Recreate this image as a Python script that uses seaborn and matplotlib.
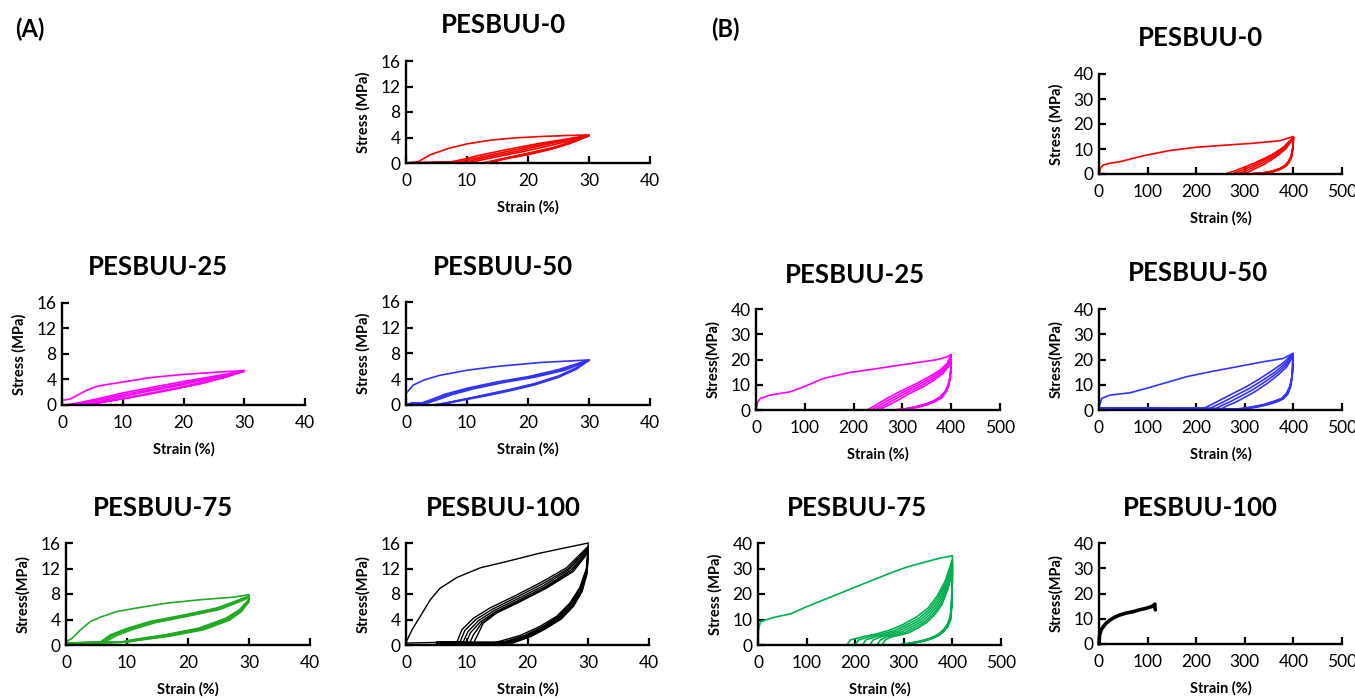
import numpy as np
import pandas as pd
import matplotlib
matplotlib.use("Agg")
import matplotlib.pyplot as plt
import seaborn as sns

# ---------------------------------------------------------------- data
# (A) cyclic tests to 30 % strain -----------------------------------
a0_strain = [
    [0, 2, 4, 7, 10, 14, 18, 22, 26, 30, 27, 24, 20, 16, 14, 12.5, 0],
    [0, 7.5, 9, 12, 16, 22, 26, 30, 27, 24, 20, 16, 14, 13, 0],
    [0, 8.5, 10, 13, 17, 22, 26, 30, 27, 24, 20, 16, 14, 13.2, 0],
    [0, 9.5, 11, 14, 18, 22, 26, 30, 27, 24, 20, 17, 15, 13.5, 0],
    [0, 10.5, 12, 15, 19, 23, 27, 30, 27, 24, 21, 18, 15.5, 13.8, 0],
]
a0_stress = [
    [0, 0.2, 1.3, 2.3, 3.0, 3.6, 3.95, 4.15, 4.3, 4.4, 3.2, 2.3, 1.4, 0.7, 0.3, 0, 0],
    [0, 0.2, 0.5, 1.2, 2.0, 3.1, 3.7, 4.35, 3.1, 2.2, 1.3, 0.6, 0.2, 0, 0],
    [0, 0.15, 0.5, 1.1, 1.9, 2.9, 3.6, 4.3, 3.15, 2.3, 1.4, 0.7, 0.25, 0, 0],
    [0, 0.1, 0.45, 1.05, 1.8, 2.7, 3.5, 4.3, 3.2, 2.35, 1.5, 0.9, 0.4, 0, 0],
    [0, 0.1, 0.4, 1.0, 1.75, 2.6, 3.5, 4.25, 3.25, 2.4, 1.75, 1.1, 0.5, 0, 0],
]

a25_strain = [
    [0, 0, 1.5, 4, 6, 10, 14.5, 20, 25.5, 30, 27, 23, 19, 15, 11, 7, 5, 3.5, 0],
    [0, 1, 3, 6, 10, 15, 20, 25, 30, 27, 23, 19, 15, 11, 7, 5, 3.8, 0],
    [0, 2, 4, 7, 11, 16, 21, 26, 30, 27, 23, 19, 15, 11, 7.5, 5.5, 4.2, 0],
    [0, 3, 5, 8, 12, 17, 22, 26, 30, 27, 23, 19, 15, 11, 8, 6, 4.5, 0],
]
a25_stress = [
    [0, 0.7, 1.0, 2.3, 3.0, 3.6, 4.3, 4.8, 5.15, 5.4, 4.4, 3.4, 2.6, 1.85, 1.15, 0.5, 0.2, 0, 0],
    [0, 0.05, 0.4, 1.0, 1.9, 2.8, 3.7, 4.5, 5.4, 4.5, 3.5, 2.7, 1.9, 1.2, 0.55, 0.25, 0, 0],
    [0, 0.05, 0.4, 1.0, 1.8, 2.7, 3.6, 4.5, 5.35, 4.45, 3.45, 2.65, 1.9, 1.2, 0.6, 0.25, 0, 0],
    [0, 0.05, 0.35, 0.95, 1.75, 2.65, 3.6, 4.4, 5.3, 4.4, 3.4, 2.6, 1.85, 1.15, 0.65, 0.3, 0, 0],
]

a50_strain = [
    [0, 0, 1.2, 3, 5.5, 10, 15, 22, 30, 28, 25, 21, 17, 13, 9, 6, 4.5, 0],
    [0, 1, 2.5, 4, 6.5, 10, 15, 20, 25, 30, 28, 25, 21, 17, 13, 9, 6.5, 5, 0],
    [0, 1, 3, 4.5, 7, 10.5, 15.5, 20.5, 25.5, 30, 28, 25, 21, 17, 13, 9.5, 7, 5.3, 0],
    [0, 1, 3.5, 5, 7.5, 11, 16, 21, 26, 30, 28, 25, 21, 17, 13, 10, 7.5, 5.6, 0],
]
a50_stress = [
    [0, 1.8, 3.1, 3.9, 4.6, 5.4, 6.0, 6.6, 7.0, 5.6, 4.3, 3.1, 2.2, 1.4, 0.7, 0.25, 0, 0],
    [0, 0.3, 0.3, 0.8, 1.7, 2.6, 3.6, 4.4, 5.5, 7.0, 5.7, 4.4, 3.2, 2.3, 1.5, 0.8, 0.3, 0, 0],
    [0, 0.3, 0.3, 0.8, 1.65, 2.55, 3.55, 4.35, 5.45, 6.95, 5.75, 4.45, 3.25, 2.35, 1.55, 0.85, 0.35, 0, 0],
    [0, 0.3, 0.3, 0.75, 1.6, 2.5, 3.5, 4.3, 5.4, 6.9, 5.8, 4.5, 3.3, 2.4, 1.6, 0.95, 0.4, 0, 0],
]

a75_strain = [
    [0, 0, 1, 2.35, 4, 5.6, 8.3, 12.2, 16.5, 22, 27.4, 30, 30, 28.5, 26.4, 22, 16.5, 11, 9.4, 5, 0],
    [0, 5.6, 7.3, 10, 13.8, 19.3, 24.7, 30, 30, 28.5, 26.4, 22, 16.5, 11, 9.4, 5, 0],
    [0, 6.0, 7.7, 10.4, 14.2, 19.6, 25.0, 30, 30, 28.6, 26.6, 22.3, 16.8, 11.3, 9.7, 5, 0],
    [0, 6.4, 8.1, 10.8, 14.6, 19.9, 25.3, 30, 30, 28.7, 26.8, 22.6, 17.1, 11.6, 10.0, 5, 0],
    [0, 5.8, 7.5, 10.2, 14.0, 19.5, 24.9, 30, 30, 28.4, 26.2, 21.8, 16.3, 10.8, 9.2, 5, 0],
]
a75_stress = [
    [0, 0.5, 1.05, 2.36, 3.67, 4.35, 5.25, 5.9, 6.56, 7.1, 7.5, 7.9, 7.1, 5.5, 4.2, 2.6, 1.6, 0.8, 0.5, 0.35, 0.3],
    [0.3, 0.45, 1.6, 2.6, 3.7, 4.7, 5.8, 7.6, 7.0, 5.4, 4.1, 2.5, 1.5, 0.75, 0.45, 0.35, 0.3],
    [0.3, 0.45, 1.5, 2.5, 3.6, 4.6, 5.7, 7.5, 6.9, 5.3, 4.0, 2.45, 1.45, 0.7, 0.45, 0.35, 0.3],
    [0.3, 0.45, 1.4, 2.4, 3.5, 4.5, 5.6, 7.4, 6.8, 5.2, 3.9, 2.4, 1.4, 0.7, 0.45, 0.35, 0.3],
    [0.3, 0.45, 1.55, 2.55, 3.65, 4.65, 5.75, 7.7, 7.1, 5.5, 4.2, 2.65, 1.6, 0.8, 0.5, 0.35, 0.3],
]

a100_strain = [
    [0, 0, 1, 2.35, 4, 5.6, 8.4, 12.2, 16.6, 22, 27.5, 30, 29.7, 28.6, 27, 24.8, 22, 18.8, 15.5, 14.5, 5, 0],
    [5, 8.4, 9.2, 11.1, 13.8, 17.7, 22, 26.4, 30, 29.8, 28.8, 27.3, 25.2, 22.5, 19.5, 16.5, 15, 5],
    [5, 8.9, 9.7, 11.5, 14.2, 18.0, 22.3, 26.6, 30, 29.8, 28.8, 27.3, 25.2, 22.6, 19.7, 16.8, 15.5, 5],
    [5, 9.4, 10.2, 11.9, 14.5, 18.3, 22.6, 26.8, 30, 29.8, 28.9, 27.4, 25.3, 22.7, 19.9, 17.1, 16.0, 5],
    [5, 9.9, 10.6, 12.2, 14.7, 18.5, 22.8, 27.1, 30, 29.8, 28.9, 27.4, 25.4, 22.8, 20.1, 17.4, 16.5, 5],
    [5, 10.5, 11.1, 12.5, 14.8, 18.7, 23.0, 27.3, 30, 29.8, 28.9, 27.5, 25.5, 22.9, 20.3, 17.7, 17.0, 5],
    [5, 11.1, 11.65, 12.7, 14.9, 18.8, 23.1, 27.5, 30, 29.8, 29.0, 27.6, 25.6, 23.0, 20.5, 18.0, 17.5, 5],
]
a100_stress = [
    [0, 0.4, 2.4, 4.5, 7.1, 8.9, 10.6, 12.1, 13.1, 14.4, 15.5, 16, 12, 9, 6.6, 4.5, 2.9, 1.5, 0.6, 0.4, 0.4, 0.3],
    [0.4, 0.5, 2.4, 4.2, 5.8, 7.6, 9.7, 12.1, 15.5, 12.2, 9.2, 6.8, 4.6, 2.9, 1.5, 0.6, 0.4, 0.4],
    [0.4, 0.5, 2.3, 4.0, 5.6, 7.4, 9.5, 11.9, 15.3, 12.0, 9.0, 6.6, 4.5, 2.8, 1.45, 0.6, 0.4, 0.4],
    [0.4, 0.45, 2.1, 3.8, 5.4, 7.2, 9.3, 11.8, 15.1, 11.8, 8.8, 6.4, 4.4, 2.7, 1.4, 0.55, 0.4, 0.4],
    [0.35, 0.4, 1.9, 3.6, 5.2, 7.0, 9.1, 11.7, 14.9, 11.6, 8.6, 6.3, 4.3, 2.65, 1.35, 0.5, 0.35, 0.35],
    [0.35, 0.35, 1.6, 3.5, 5.1, 6.9, 9.0, 11.6, 14.7, 11.4, 8.5, 6.2, 4.2, 2.6, 1.3, 0.5, 0.35, 0.35],
    [0.3, 0.3, 1.3, 3.4, 5.0, 6.8, 8.9, 11.5, 14.5, 11.2, 8.4, 6.1, 4.1, 2.55, 1.3, 0.45, 0.3, 0.3],
]

# (B) cyclic tests to 400 % strain ----------------------------------
b0_strain = [
    [0, 3, 9, 22, 43, 91, 146, 200, 249, 317, 372, 400,
     399.5, 398, 395, 390, 383, 372, 355, 335, 315, 303, 0],
    [0, 260, 280, 300, 320, 340, 360, 380, 400,
     399.5, 398, 395, 390, 383, 372, 355, 335, 316, 304, 0],
    [0, 272, 290, 308, 326, 344, 362, 381, 400,
     399.5, 398, 395, 390, 384, 373, 357, 337, 318, 306, 0],
    [0, 284, 300, 316, 332, 349, 366, 383, 400,
     399.5, 398, 396, 391, 385, 374, 358, 339, 321, 310, 0],
    [0, 296, 310, 324, 339, 354, 369, 385, 400,
     399.5, 398, 396, 391, 385, 375, 360, 341, 324, 314, 0],
]
b0_stress = [
    [0, 2.5, 3.6, 4.3, 4.9, 7.3, 9.4, 10.7, 11.4, 12.3, 13.3, 15.0,
     12.0, 9.5, 7.0, 5.0, 3.5, 2.2, 1.1, 0.4, 0.1, 0, 0],
    [0, 0, 1.3, 2.8, 4.4, 6.2, 8.2, 10.8, 14.8,
     11.8, 9.3, 6.9, 4.9, 3.4, 2.1, 1.05, 0.4, 0.1, 0, 0],
    [0, 0, 1.2, 2.6, 4.2, 6.0, 8.0, 10.6, 14.7,
     11.7, 9.2, 6.8, 4.8, 3.35, 2.1, 1.0, 0.4, 0.1, 0, 0],
    [0, 0, 1.1, 2.5, 4.0, 5.8, 7.8, 10.4, 14.6,
     11.6, 9.1, 6.7, 4.7, 3.3, 2.05, 1.0, 0.35, 0.1, 0, 0],
    [0, 0, 1.0, 2.4, 3.8, 5.6, 7.6, 10.2, 14.5,
     11.5, 9.0, 6.6, 4.6, 3.25, 2.0, 0.95, 0.35, 0.1, 0, 0],
]

b25_strain = [
    [0, 3, 9, 29, 70, 98, 138, 193, 248, 309, 370, 391, 400,
     399.5, 398, 394, 388, 378, 364, 345, 320, 300, 280, 0],
    [0, 228, 250, 275, 300, 329, 355, 377, 392, 400,
     399.5, 398, 394, 388, 378, 364, 345, 321, 301, 282, 0],
    [0, 236, 257, 281, 305, 333, 358, 379, 393, 400,
     399.5, 398, 394, 388, 379, 365, 347, 323, 303, 285, 0],
    [0, 244, 264, 287, 310, 337, 361, 381, 394, 400,
     399.5, 398, 395, 389, 380, 366, 348, 325, 305, 288, 0],
    [0, 252, 271, 293, 315, 341, 364, 383, 395, 400,
     399.5, 398, 395, 389, 381, 367, 350, 327, 307, 291, 0],
]
b25_stress = [
    [0, 3, 4.6, 5.9, 7.2, 9.2, 12.5, 14.9, 16.4, 18.2, 19.9, 21.0, 22,
     17, 13.5, 10, 7.5, 5.3, 3.6, 2.2, 1.0, 0.3, 0, 0],
    [0, 0, 2.5, 5.3, 7.8, 10.5, 13.2, 15.8, 18.5, 22,
     16.8, 13.3, 9.9, 7.4, 5.2, 3.5, 2.1, 1.0, 0.3, 0, 0],
    [0, 0, 2.3, 4.9, 7.4, 10.0, 12.7, 15.3, 18.1, 21.8,
     16.6, 13.1, 9.8, 7.3, 5.1, 3.45, 2.1, 0.95, 0.3, 0, 0],
    [0, 0, 2.1, 4.5, 7.0, 9.5, 12.2, 14.9, 17.7, 21.6,
     16.4, 12.9, 9.7, 7.2, 5.0, 3.4, 2.05, 0.95, 0.3, 0, 0],
    [0, 0, 1.9, 4.1, 6.6, 9.0, 11.7, 14.5, 17.3, 21.4,
     16.2, 12.7, 9.6, 7.1, 4.9, 3.35, 2.0, 0.9, 0.3, 0, 0],
]

b50_strain = [
    [0, 0, 5.5, 22.6, 63.7, 98, 132, 180, 228, 283, 338, 379, 399,
     398.5, 397, 393, 386, 376, 358, 338, 317, 295, 276, 230, 0],
    [0, 215, 230, 249, 275, 303, 330, 358, 380, 399,
     398.5, 397, 393, 386, 376, 358, 338, 317, 295, 276, 230, 0],
    [0, 228, 242, 260, 284, 310, 336, 362, 382, 399,
     398.5, 397, 393, 387, 377, 360, 340, 319, 298, 279, 235, 0],
    [0, 240, 253, 270, 292, 316, 341, 365, 384, 399,
     398.5, 397, 394, 388, 378, 362, 342, 322, 301, 282, 240, 0],
    [0, 252, 264, 280, 300, 322, 346, 368, 386, 399,
     398.5, 397, 394, 388, 379, 364, 344, 325, 304, 285, 245, 0],
]
b50_stress = [
    [0, 1.3, 4.6, 5.9, 6.8, 8.6, 10.5, 13.2, 15.1, 17.1, 19.1, 20.4, 22.4,
     17, 13.2, 9.5, 6.6, 4.6, 3.3, 2.1, 1.3, 0.6, 0.3, 0.6, 0.8],
    [0.6, 0.6, 2.0, 3.9, 6.5, 9.2, 12.3, 15.8, 18.8, 22.4,
     16.8, 13.0, 9.4, 6.5, 4.5, 3.25, 2.05, 1.25, 0.6, 0.3, 0.5, 0.7],
    [0.6, 0.6, 1.9, 3.6, 6.0, 8.6, 11.7, 15.0, 18.2, 22.0,
     16.6, 12.8, 9.3, 6.4, 4.45, 3.2, 2.0, 1.2, 0.55, 0.3, 0.5, 0.7],
    [0.5, 0.5, 1.8, 3.3, 5.5, 8.0, 11.1, 14.4, 17.6, 21.6,
     16.4, 12.6, 9.2, 6.3, 4.4, 3.15, 2.0, 1.2, 0.55, 0.3, 0.5, 0.6],
    [0.5, 0.5, 1.7, 3.0, 5.0, 7.4, 10.5, 13.8, 17.0, 21.3,
     16.2, 12.4, 9.1, 6.2, 4.35, 3.1, 1.95, 1.15, 0.5, 0.3, 0.5, 0.6],
]

b75_strain = [
    [0, 0, 1, 5, 32, 67, 101, 135, 169, 204, 238, 272, 307, 341, 375, 400,
     399.5, 398.5, 396, 390, 382, 370, 355, 335, 313, 286, 0],
    [0, 183, 190, 217, 245, 272, 300, 327, 350, 368, 385, 400,
     399.5, 398.5, 396, 390, 382, 370, 355, 335, 313, 286, 0],
    [0, 200, 207, 230, 255, 280, 306, 332, 353, 370, 386, 400,
     399.5, 398.5, 396, 390, 382, 370, 355, 335, 313, 289, 0],
    [0, 215, 222, 242, 265, 288, 312, 336, 356, 372, 387, 400,
     399.5, 398.5, 396, 390, 382, 370, 355, 335, 313, 292, 0],
    [0, 230, 237, 254, 275, 296, 318, 340, 359, 374, 388, 400,
     399.5, 398.5, 396, 390, 382, 370, 355, 335, 313, 295, 0],
    [0, 245, 252, 266, 285, 304, 324, 344, 362, 376, 389, 400,
     399.5, 398.5, 396, 390, 382, 370, 355, 335, 313, 298, 0],
    [0, 255, 262, 275, 292, 310, 329, 347, 364, 378, 390, 400,
     399.5, 398.5, 396, 390, 382, 370, 355, 335, 313, 300, 0],
]
b75_stress = [
    [0, 0, 5.9, 9.2, 10.8, 12.2, 15.1, 17.7, 20.3, 23.0, 25.6, 28.2, 30.6, 32.4, 34.1, 35,
     25, 18, 11.5, 8.2, 6.0, 4.1, 2.7, 1.55, 0.75, 0, 0],
    [0, 0, 2.0, 3.3, 4.4, 5.9, 8.2, 11.1, 14.5, 19.0, 25.0, 33.5,
     24, 17, 11, 8, 5.9, 4.0, 2.6, 1.5, 0.7, 0, 0],
    [0, 0, 2.0, 3.3, 4.3, 5.6, 7.9, 10.6, 14.0, 18.3, 24.3, 32.5,
     23.5, 16.5, 10.8, 7.8, 5.8, 3.9, 2.55, 1.45, 0.7, 0, 0],
    [0, 0, 2.0, 3.3, 4.2, 5.4, 7.6, 10.1, 13.5, 17.6, 23.6, 31.5,
     23, 16, 10.5, 7.6, 5.6, 3.8, 2.5, 1.4, 0.65, 0, 0],
    [0, 0, 2.0, 3.3, 4.1, 5.2, 7.3, 9.6, 13.0, 16.9, 22.9, 30.5,
     22.5, 15.5, 10.2, 7.4, 5.5, 3.7, 2.4, 1.35, 0.6, 0, 0],
    [0, 0, 2.0, 3.3, 4.0, 5.0, 7.0, 9.2, 12.5, 16.3, 22.2, 29.5,
     22, 15, 10, 7.2, 5.4, 3.6, 2.35, 1.3, 0.6, 0, 0],
    [0, 0, 2.0, 3.2, 3.9, 4.8, 6.7, 8.8, 12.0, 15.7, 21.5, 28.5,
     21.5, 14.5, 9.8, 7.0, 5.3, 3.5, 2.3, 1.25, 0.55, 0, 0],
]

b100_strain = [[0, 1, 2, 5, 9, 15, 23, 32, 43, 55, 70, 85, 98, 108, 112, 115, 115, 116]]
b100_stress = [[0, 3, 4.2, 5.8, 6.9, 8.3, 9.5, 10.6, 11.5, 12.2, 12.8, 13.6, 14.2, 14.8, 15.3, 15.8, 14.5, 13.5]]

panel_titles = ["PESBUU-0", "PESBUU-25", "PESBUU-50", "PESBUU-75", "PESBUU-100"]
a_xticks = [0, 10, 20, 30, 40]
a_yticks = [0, 4, 8, 12, 16]
b_xticks = [0, 100, 200, 300, 400, 500]
b_yticks = [0, 10, 20, 30, 40]

# ---------------------------------------------------------------- style
sns.set_style("ticks")
plt.rcParams["font.family"] = ["Lato", "DejaVu Sans"]
plt.rcParams["text.color"] = "black"
plt.rcParams["axes.labelcolor"] = "black"
plt.rcParams["xtick.color"] = "black"
plt.rcParams["ytick.color"] = "black"

W, H = 1355, 698
fig = plt.figure(figsize=(W / 100, H / 100), dpi=100)


def rect(xl, xr, yt, yb):
    return [xl / W, 1 - yb / H, (xr - xl) / W, (yb - yt) / H]


def panel(box, strains, stresses, color, xticks, yticks, ylabel, title, txy, lw):
    ax = fig.add_axes(rect(*box))
    rows = []
    for c, (xs, ys) in enumerate(zip(strains, stresses)):
        for x, y in zip(xs, ys):
            rows.append((c, x, y))
    df = pd.DataFrame(rows, columns=["cycle", "strain", "stress"])
    sns.lineplot(data=df, x="strain", y="stress", units="cycle", estimator=None,
                 sort=False, color=color, lw=lw, ax=ax, legend=False)
    for ln in ax.lines:
        ln.set_clip_on(False)
    ax.set_xlim(xticks[0], xticks[-1])
    ax.set_ylim(yticks[0], yticks[-1])
    ax.set_xticks(xticks)
    ax.set_yticks(yticks)
    for s in ["top", "right"]:
        ax.spines[s].set_visible(False)
    for s in ["left", "bottom"]:
        ax.spines[s].set_linewidth(1.7)
        ax.spines[s].set_color("black")
    ax.tick_params(direction="in", length=5, width=1.6, labelsize=12.5,
                   colors="black", labelcolor="black")
    ax.tick_params(axis="x", pad=7)
    ax.tick_params(axis="y", pad=4)
    ax.set_xlabel("Strain (%)", fontsize=10.5, fontweight="bold", color="black")
    ax.set_ylabel(ylabel, fontsize=10.5, fontweight="bold", color="black")
    bw = box[1] - box[0]
    bh = box[3] - box[2]
    ax.yaxis.set_label_coords(-43 / bw, 0.5)
    ax.xaxis.set_label_coords(0.5, -44 / bh)
    ax.xaxis.label.set_va("center")
    ax.yaxis.label.set_va("center")
    fig.text(txy[0] / W, 1 - txy[1] / H, title, ha="center", va="center",
             fontsize=18.5, fontweight="bold", color="black")
    return ax


# (A)
panel((406, 650, 61, 163), a0_strain, a0_stress, "#FF0000", a_xticks, a_yticks,
      "Stress (MPa)", panel_titles[0], (503, 25), 1.2)
panel((62, 305, 303, 405), a25_strain, a25_stress, "#FF00FF", a_xticks, a_yticks,
      "Stress (MPa)", panel_titles[1], (158, 267), 1.2)
panel((406, 650, 302, 405), a50_strain, a50_stress, "#3333FF", a_xticks, a_yticks,
      "Stress (MPa)", panel_titles[2], (503, 267), 1.2)
panel((66, 310, 543, 645), a75_strain, a75_stress, "#22AA22", a_xticks, a_yticks,
      "Stress(MPa)", panel_titles[3], (163, 508), 1.2)
panel((406, 649, 543, 645), a100_strain, a100_stress, "black", a_xticks, a_yticks,
      "Stress(MPa)", panel_titles[4], (503, 508), 1.0)

# (B)
panel((1099, 1342, 74, 174), b0_strain, b0_stress, "#FF0000", b_xticks, b_yticks,
      "Stress (MPa)", panel_titles[0], (1200, 38), 1.2)
panel((756, 1000, 309, 410), b25_strain, b25_stress, "#FF00FF", b_xticks, b_yticks,
      "Stress(MPa)", panel_titles[1], (855, 275), 1.2)
panel((1099, 1342, 309, 410), b50_strain, b50_stress, "#3333FF", b_xticks, b_yticks,
      "Stress(MPa)", panel_titles[2], (1198, 273), 1.2)
panel((758, 1001, 543, 645), b75_strain, b75_stress, "#00B050", b_xticks, b_yticks,
      "Stress (MPa)", panel_titles[3], (857, 508), 1.2)
panel((1099, 1342, 543, 644), b100_strain, b100_stress, "black", b_xticks, b_yticks,
      "Stress(MPa)", panel_titles[4], (1200, 508), 2.6)

fig.text(30 / W, 1 - 29 / H, "(A)", ha="center", va="center", fontsize=17,
         fontweight="bold", color="black")
fig.text(725 / W, 1 - 29 / H, "(B)", ha="center", va="center", fontsize=17,
         fontweight="bold", color="black")

fig.savefig("out.png", dpi=100)
